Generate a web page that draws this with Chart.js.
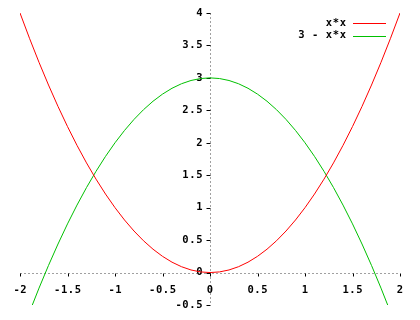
<!DOCTYPE html>
<html>
<head>
<meta charset="utf-8">
<script src="https://cdn.jsdelivr.net/npm/chart.js@4"></script>
<style>
html,body{margin:0;padding:0;background:#fff;}
#wrap{width:420px;height:320px;position:relative;}
</style>
</head>
<body>
<div id="wrap"><canvas id="c" width="420" height="320"></canvas></div>
<script>
const xValues = [-2.0,-1.9,-1.8,-1.7,-1.6,-1.5,-1.4,-1.3,-1.2,-1.1,-1.0,-0.9,-0.8,-0.7,-0.6,-0.5,-0.4,-0.3,-0.2,-0.1,0.0,
  0.1,0.2,0.3,0.4,0.5,0.6,0.7,0.8,0.9,1.0,1.1,1.2,1.3,1.4,1.5,1.6,1.7,1.8,1.9,2.0];
const squareValues = [4.00,3.61,3.24,2.89,2.56,2.25,1.96,1.69,1.44,1.21,1.00,0.81,0.64,0.49,0.36,0.25,0.16,0.09,0.04,0.01,0.00,
  0.01,0.04,0.09,0.16,0.25,0.36,0.49,0.64,0.81,1.00,1.21,1.44,1.69,1.96,2.25,2.56,2.89,3.24,3.61,4.00];
const invertedValues = [-1.00,-0.61,-0.24,0.11,0.44,0.75,1.04,1.31,1.56,1.79,2.00,2.19,2.36,2.51,2.64,2.75,2.84,2.91,2.96,2.99,3.00,
  2.99,2.96,2.91,2.84,2.75,2.64,2.51,2.36,2.19,2.00,1.79,1.56,1.31,1.04,0.75,0.44,0.11,-0.24,-0.61,-1.00];
const seriesNames = ["x*x", "3 - x*x"];
const seriesColors = ["#ff0000", "#00c000"];
const xTicks = [-2,-1.5,-1,-0.5,0,0.5,1,1.5,2];
const yTicks = [-0.5,0,0.5,1,1.5,2,2.5,3,3.5,4];

const FONT = "bold 10.5px 'DejaVu Sans Mono', monospace";
const SPACING = 0.6;

function drawText(ctx, text, x, y, align) {
  // manual letter spacing for a wider bitmap-like look
  const w = ctx.measureText(text).width + SPACING * (text.length - 1);
  let start = x;
  if (align === 'center') start = x - w / 2;
  else if (align === 'right') start = x - w;
  ctx.textAlign = 'left';
  let cx = start;
  for (const ch of text) {
    ctx.fillText(ch, cx, y);
    cx += ctx.measureText(ch).width + SPACING;
  }
}

const zeroAxes = {
  id: 'zeroAxes',
  beforeDatasetsDraw(chart) {
    const {ctx, chartArea, scales} = chart;
    const xs = scales.x, ys = scales.y;
    const x0 = Math.round(xs.getPixelForValue(0)) + 0.5;
    const y0 = Math.round(ys.getPixelForValue(0)) + 0.5;
    ctx.save();
    ctx.strokeStyle = '#a0a0a0';
    ctx.lineWidth = 1;
    ctx.setLineDash([2, 2]);
    ctx.beginPath();
    ctx.moveTo(chartArea.left, y0); ctx.lineTo(chartArea.right, y0);
    ctx.moveTo(x0, chartArea.top); ctx.lineTo(x0, chartArea.bottom);
    ctx.stroke();
    ctx.setLineDash([]);
    ctx.strokeStyle = '#000';
    ctx.beginPath();
    xTicks.forEach(v => {
      const px = Math.round(xs.getPixelForValue(v)) + 0.5;
      ctx.moveTo(px, y0); ctx.lineTo(px, y0 + 3);
    });
    yTicks.forEach(v => {
      const py = Math.round(ys.getPixelForValue(v)) + 0.5;
      ctx.moveTo(x0, py); ctx.lineTo(x0 - 4, py);
    });
    ctx.stroke();
    ctx.fillStyle = '#000';
    ctx.font = FONT;
    ctx.textBaseline = 'middle';
    xTicks.forEach(v => {
      drawText(ctx, String(v), xs.getPixelForValue(v), y0 + 17, 'center');
    });
    yTicks.forEach(v => {
      drawText(ctx, String(v), x0 - 8, ys.getPixelForValue(v), 'right');
    });
    // legend
    seriesNames.forEach((name, i) => {
      const ly = 23 + i * 12.7;
      ctx.fillStyle = '#000';
      drawText(ctx, name, 346, ly, 'right');
      ctx.strokeStyle = seriesColors[i];
      ctx.beginPath();
      ctx.moveTo(353, Math.round(ly) + 0.5); ctx.lineTo(386, Math.round(ly) + 0.5);
      ctx.stroke();
    });
    ctx.restore();
  }
};

new Chart(document.getElementById('c'), {
  type: 'line',
  data: {
    datasets: [
      { label: seriesNames[0], data: xValues.map((x, i) => ({x, y: squareValues[i]})), borderColor: seriesColors[0], borderWidth: 1, pointRadius: 0, tension: 0, fill: false },
      { label: seriesNames[1], data: xValues.map((x, i) => ({x, y: invertedValues[i]})), borderColor: seriesColors[1], borderWidth: 1, pointRadius: 0, tension: 0, fill: false }
    ]
  },
  options: {
    responsive: false,
    animation: false,
    devicePixelRatio: 1,
    layout: { padding: { left: 20, right: 20, top: 13, bottom: 15 } },
    scales: {
      x: { type: 'linear', min: -2, max: 2, display: false },
      y: { type: 'linear', min: -0.5, max: 4, display: false }
    },
    plugins: { legend: { display: false }, tooltip: { enabled: false } }
  },
  plugins: [zeroAxes]
});
</script>
</body>
</html>
